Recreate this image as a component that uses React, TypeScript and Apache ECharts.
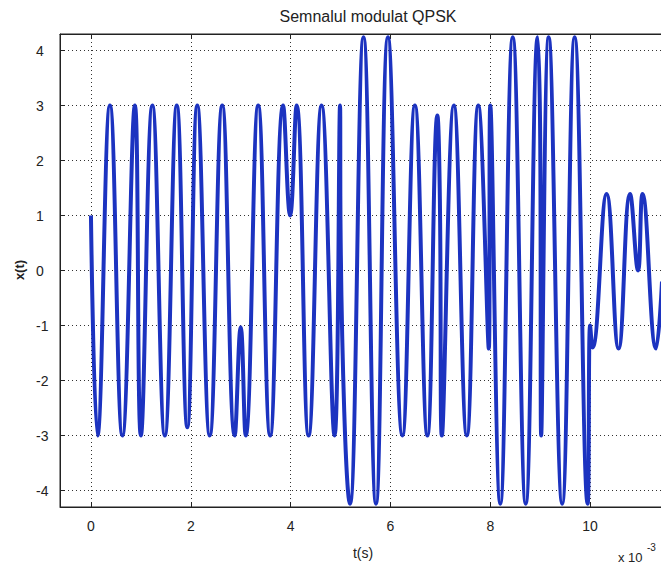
import React, { useEffect, useRef } from "react";
import * as echarts from "echarts";

// time axis (units of 1e-3 s) and signal amplitude
const TIME = [
  0, 0.13, 0.38, 0.63, 0.88, 1.0, 1.23, 1.48, 1.72, 1.93, 2.13, 2.38, 2.63,
  2.88, 3.0, 3.1, 3.35, 3.59, 3.85, 3.99, 4.12, 4.36, 4.62, 4.88, 4.99, 5.0,
  5.19, 5.46, 5.71, 5.95, 6.24, 6.49, 6.74, 6.94, 6.99, 7.03, 7.27, 7.53, 7.76,
  7.97, 8.0, 8.2, 8.45, 8.71, 8.95, 9.0, 9.02, 9.17, 9.44, 9.69, 9.95, 10.0,
  10.05, 10.33, 10.57, 10.8, 10.96, 11.05, 11.32, 11.44,
];
const SIGNAL = [
  1, -3, 3, -3, 3, -3, 3, -3, 3, -2.85, 3, -3, 3,
  -3, -1.03, -3, 3, -3, 3, 1, 3, -3, 3, -3, 3, 0.8,
  -4.24, 4.24, -4.24, 4.24, -3, 3, -3, 2.82, 1.3, -3, 3, -3, 3,
  -1.42, 3, -4.24, 4.24, -4.24, 4.24, 2.4, -3, 4.24, -4.24, 4.24, -4.24, -1.0,
  -1.4, 1.39, -1.42, 1.39, 0, 1.39, -1.42, -0.2,
];

const X_MIN = -0.62;
const X_MAX = 11.44;
const Y_MIN = -4.3;
const Y_MAX = 4.3;

const TITLE = "Semnalul modulat QPSK";
const X_NAME = "t(s)";
const Y_NAME = "x(t)";
const X_EXP_BASE = "x 10";
const X_EXP_POWER = "-3";

const FONT = '"Liberation Sans", Arial, sans-serif';
const INK = "#222";

export default function App() {
  const ref = useRef<HTMLDivElement>(null);

  useEffect(() => {
    document.body.style.margin = "0";
    const chart = echarts.init(ref.current!, null, { renderer: "svg" });
    const data = TIME.map((t, i) => [t, SIGNAL[i]]);

    const gridLine = { show: true, lineStyle: { type: [1, 3], color: "#333", width: 1 } };

    chart.setOption({
      animation: false,
      backgroundColor: "#fff",
      title: {
        text: TITLE,
        left: 363,
        top: 3,
        textAlign: "center",
        textStyle: { fontFamily: FONT, fontSize: 16, fontWeight: "normal", color: INK },
      },
      grid: {
        left: 60,
        top: 34,
        right: 18,
        bottom: 60,
        show: true,
        borderColor: INK,
        borderWidth: 1,
        backgroundColor: "#fff",
      },
      xAxis: [
        {
          type: "value",
          min: X_MIN,
          max: X_MAX,
          minInterval: 2,
          maxInterval: 2,
          axisLine: { show: true, onZero: false, lineStyle: { color: INK } },
          axisTick: { show: true, inside: true, length: 5, lineStyle: { color: INK } },
          axisLabel: {
            showMinLabel: false,
            showMaxLabel: false,
            margin: 12,
            fontSize: 14,
            fontFamily: FONT,
            color: INK,
          },
          splitLine: gridLine,
        },
        {
          type: "value",
          position: "top",
          min: X_MIN,
          max: X_MAX,
          minInterval: 2,
          maxInterval: 2,
          axisLine: { show: true, onZero: false, lineStyle: { color: INK } },
          axisTick: { show: true, inside: true, length: 5, lineStyle: { color: INK } },
          axisLabel: { show: false },
          splitLine: { show: false },
        },
      ],
      yAxis: {
        type: "value",
        min: Y_MIN,
        max: Y_MAX,
        minInterval: 1,
        maxInterval: 1,
        axisLine: { show: true, onZero: false, lineStyle: { color: INK } },
        axisTick: { show: true, inside: true, length: 5, lineStyle: { color: INK } },
        axisLabel: {
          showMinLabel: false,
          showMaxLabel: false,
          align: "left",
          margin: 24,
          fontSize: 14,
          fontFamily: FONT,
          color: INK,
        },
        splitLine: gridLine,
      },
      graphic: [
        {
          type: "text",
          x: 363,
          y: 553,
          style: {
            text: X_NAME,
            textAlign: "center",
            textVerticalAlign: "middle",
            font: `14px ${FONT}`,
            fill: INK,
          },
        },
        {
          type: "text",
          x: 19,
          y: 270,
          rotation: Math.PI / 2,
          style: {
            text: Y_NAME,
            textAlign: "center",
            textVerticalAlign: "middle",
            font: `bold 13px ${FONT}`,
            fill: INK,
          },
        },
        {
          type: "text",
          x: 618,
          y: 557,
          style: {
            text: X_EXP_BASE,
            textAlign: "left",
            textVerticalAlign: "middle",
            font: `13px ${FONT}`,
            fill: INK,
          },
        },
        {
          type: "text",
          x: 647,
          y: 547,
          style: {
            text: X_EXP_POWER,
            textAlign: "left",
            textVerticalAlign: "middle",
            font: `10px ${FONT}`,
            fill: INK,
          },
        },
      ],
      series: [
        {
          type: "line",
          data,
          showSymbol: false,
          smooth: 0.45,
          clip: true,
          lineStyle: { color: "#1c33c0", width: 4 },
        },
      ],
    });

    return () => chart.dispose();
  }, []);

  return (
    <div
      style={{
        position: "fixed",
        left: 0,
        top: 0,
        width: 661,
        height: 567,
        overflow: "hidden",
        background: "#fff",
      }}
    >
      <div ref={ref} style={{ width: 680, height: 567 }} />
    </div>
  );
}
